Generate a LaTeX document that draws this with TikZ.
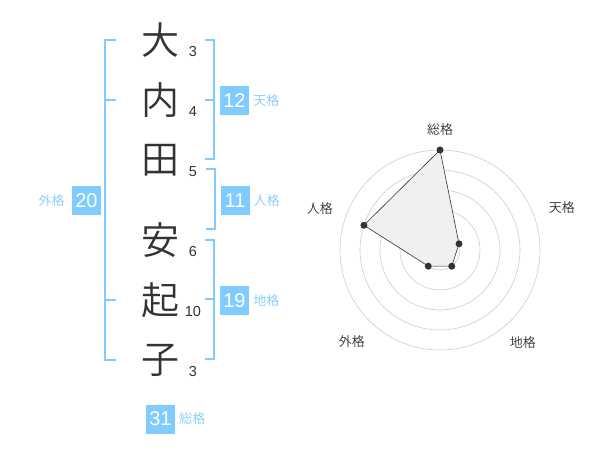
\documentclass[tikz,border=0pt]{standalone}
\usepackage{fontspec}
\setmainfont{Liberation Sans}
\newfontfamily\jp{Noto Sans CJK JP}[UprightFont=* DemiLight]
\usetikzlibrary{positioning}
\definecolor{kakublue}{RGB}{128,204,255}
\definecolor{inkgray}{RGB}{51,51,51}
\tikzset{
  kanji/.style={font=\jp\fontsize{38}{38}\selectfont,text=inkgray,inner sep=0pt},
  strokes/.style={font=\fontsize{14.5}{14.5}\selectfont,text=inkgray,inner sep=0pt},
  kakubox/.style={fill=kakublue,text=white,minimum size=29pt,inner sep=0pt,font=\fontsize{20}{20}\selectfont},
  kakuname/.style={text=kakublue,font=\jp\fontsize{13}{13}\selectfont,inner sep=0pt},
  bracket/.style={draw=kakublue,line width=2pt},
  ring/.style={draw=black!20,line width=0.6pt},
  dot/.style={circle,fill=inkgray,inner sep=0pt,minimum size=7pt},
  axisname/.style={text=inkgray,font=\jp\fontsize{13}{13}\selectfont,inner sep=0pt}
}
\begin{document}
\begin{tikzpicture}[x=1pt,y=-1pt]
\useasboundingbox (0,0) rectangle (600,470);
\node[kanji] (k1) at (160,40) {大};
\node[kanji] (k2) at (160,100) {内};
\node[kanji] (k3) at (160,160) {田};
\node[kanji] (k4) at (160,240) {安};
\node[kanji] (k5) at (160,300) {起};
\node[kanji] (k6) at (160,360) {子};
\node[strokes] (s1) at (193,52) {3};
\node[strokes] (s2) at (193,112) {4};
\node[strokes] (s3) at (193,172) {5};
\node[strokes] (s4) at (193,252) {6};
\node[strokes] (s5) at (193,312) {10};
\node[strokes] (s6) at (193,372) {3};
\draw[bracket] (116,40) -- (105,40) -- (105,360) -- (116,360);
\draw[bracket] (105,100) -- (116,100);
\draw[bracket] (105,300) -- (116,300);
\draw[bracket] (205,40) -- (214,40) -- (214,159) -- (205,159);
\draw[bracket] (205,100) -- (214,100);
\draw[bracket] (206,169) -- (215,169) -- (215,229) -- (206,229);
\draw[bracket] (205,240) -- (214,240) -- (214,359) -- (205,359);
\draw[bracket] (205,299) -- (214,299);
\node[kakubox] (ten) at (234.5,100.5) {12};
\node[kakuname,right=4pt of ten] (tenname) {天格};
\node[kakubox] (jin) at (235,200.5) {11};
\node[kakuname,right=4pt of jin] (jinname) {人格};
\node[kakubox] (chi) at (234.5,300.5) {19};
\node[kakuname,right=4pt of chi] (chiname) {地格};
\node[kakubox] (gai) at (86.5,200.5) {20};
\node[kakuname,left=7pt of gai] (gainame) {外格};
\node[kakubox] (sou) at (160.5,419) {31};
\node[kakuname,right=4pt of sou] (souname) {総格};
\begin{scope}[shift={(440,250)},y=1pt]
\foreach \r in {20,40,60,80,100}
  \draw[ring] (0,0) circle[radius=\r];
\fill[black!20] (0,0) circle[radius=3.5];
\coordinate (psou) at (90:100);
\coordinate (pten) at (18:20);
\coordinate (pchi) at (-54:20);
\coordinate (pgai) at (-126:20);
\coordinate (pjin) at (162:80);
\draw[fill=black!6,draw=inkgray,line width=0.6pt] (psou) -- (pten) -- (pchi) -- (pgai) -- (pjin) -- cycle;
\foreach \p in {psou,pten,pchi,pgai,pjin}
  \node[dot] at (\p) {};
\node[axisname] (asou) at (90:120) {総格};
\node[axisname] (aten) at (19:129) {天格};
\node[axisname] (achi) at (-48:124) {地格};
\node[axisname] (agai) at (-134:127) {外格};
\node[axisname] (ajin) at (161:127) {人格};
\end{scope}
\end{tikzpicture}
\end{document}
